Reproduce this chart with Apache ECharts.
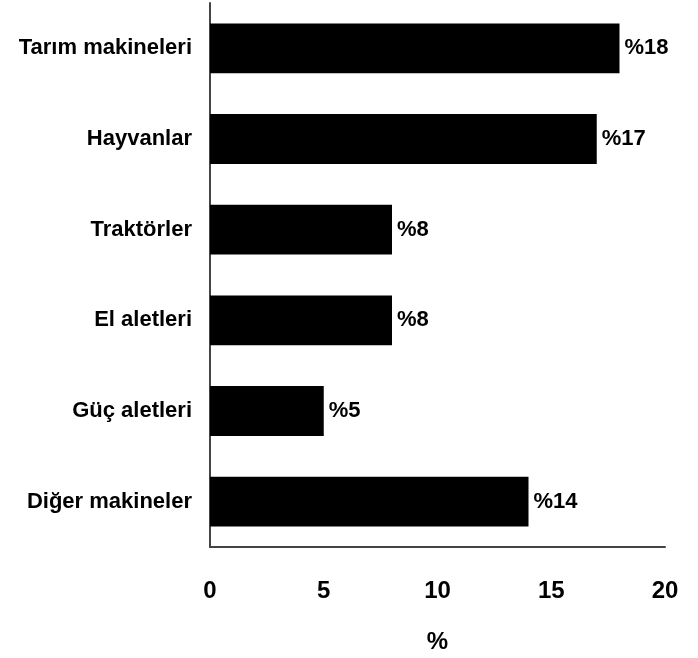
<!DOCTYPE html>
<html>
<head>
<meta charset="utf-8">
<script src="https://cdn.jsdelivr.net/npm/echarts@6/dist/echarts.min.js"></script>
<style>
  html, body { margin: 0; padding: 0; background: #fff; }
  #chart { width: 698px; height: 658px; }
</style>
</head>
<body>
<div id="chart"></div>
<script>
// categories from bottom to top (category axis runs upward)
var categories = ['Diğer makineler', 'Güç aletleri', 'El aletleri', 'Traktörler', 'Hayvanlar', 'Tarım makineleri']
var values = [14, 5, 8, 8, 17, 18]
var xTicks = [0, 5, 10, 15, 20]

var font = '"Liberation Sans Narrow", "Liberation Sans", Arial, sans-serif'

var chart = echarts.init(document.getElementById('chart'))
chart.setOption({
  animation: false,
  grid: {
    left: 210,
    right: 33,
    top: 3,
    bottom: 111,
    outerBoundsMode: 'none'
  },
  xAxis: {
    type: 'value',
    min: xTicks[0],
    max: xTicks[xTicks.length - 1],
    interval: 5,
    name: '%',
    nameLocation: 'middle',
    nameGap: 83,
    nameTextStyle: {
      color: '#000',
      fontFamily: font,
      fontWeight: 'bold',
      fontSize: 24
    },
    axisLine: {
      show: true,
      lineStyle: { color: '#444', width: 2 }
    },
    axisTick: { show: false },
    splitLine: { show: false },
    axisLabel: {
      margin: 32,
      color: '#000',
      fontFamily: font,
      fontWeight: 'bold',
      fontSize: 24
    }
  },
  yAxis: {
    type: 'category',
    data: categories,
    axisLine: {
      show: true,
      lineStyle: { color: '#444', width: 2 }
    },
    axisTick: { show: false },
    axisLabel: {
      margin: 18,
      color: '#000',
      fontFamily: font,
      fontWeight: 'bold',
      fontSize: 22
    }
  },
  series: [{
    type: 'bar',
    data: values,
    barWidth: '55%',
    itemStyle: { color: '#000' },
    label: {
      show: true,
      position: 'right',
      distance: 5,
      formatter: '%{c}',
      color: '#000',
      fontFamily: font,
      fontWeight: 'bold',
      fontSize: 22
    }
  }]
})
</script>
</body>
</html>
